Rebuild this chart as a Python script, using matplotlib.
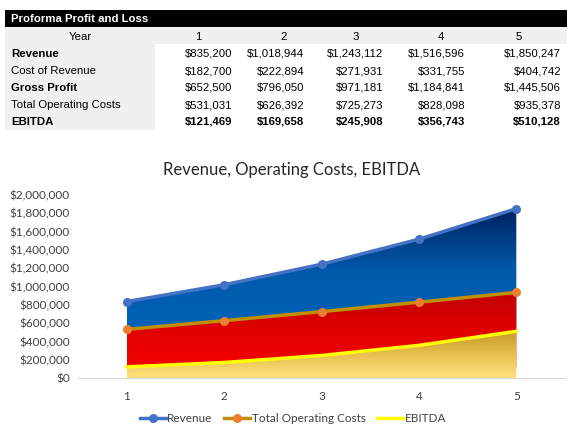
import numpy as np
import matplotlib
matplotlib.use("Agg")
import matplotlib.pyplot as plt
from matplotlib.colors import LinearSegmentedColormap
from matplotlib.ticker import FuncFormatter

# Datos de la tabla
years = [1, 2, 3, 4, 5]
revenue = [835200, 1018944, 1243112, 1516596, 1850247]
cost_of_revenue = [182700, 222894, 271931, 331755, 404742]
gross_profit = [652500, 796050, 971181, 1184841, 1445506]
operating_costs = [531031, 626392, 725273, 828098, 935378]
ebitda = [121469, 169658, 245908, 356743, 510128]

row_labels = ["Revenue", "Cost of Revenue", "Gross Profit", "Total Operating Costs", "EBITDA"]
row_values = [revenue, cost_of_revenue, gross_profit, operating_costs, ebitda]
row_bold = [True, False, True, False, True]

W, H = 572, 432
fig = plt.figure(figsize=(W / 100, H / 100), dpi=100)

# ---- Tabla (coordenadas en pixeles) ----
tab = fig.add_axes([0, 0, 1, 1])
tab.set_xlim(0, W)
tab.set_ylim(H, 0)
tab.axis("off")

tfont = "Liberation Sans"
tab.add_patch(plt.Rectangle((5, 10), 562, 17, color="black", lw=0))
tab.text(11, 19, "Proforma Profit and Loss", color="white", fontsize=8.2,
         fontweight="bold", family=tfont, va="center")
tab.add_patch(plt.Rectangle((5, 27), 562, 17, color="#f0f0f0", lw=0))
tab.add_patch(plt.Rectangle((5, 27), 150, 103, color="#f0f0f0", lw=0))
tab.text(80, 37, "Year", fontsize=8.2, family=tfont, ha="center", va="center")

year_x = [198, 284, 356, 441, 519]
col_right = [232, 304, 383, 465, 561]
for i, y in enumerate(years):
    tab.text(year_x[i], 37, str(y), fontsize=8.2, family=tfont, ha="center", va="center")

for r, (lab, vals, b) in enumerate(zip(row_labels, row_values, row_bold)):
    yy = 54 + r * 17
    fw = "bold" if b else "normal"
    tab.text(11, yy, lab, fontsize=8.2, family=tfont, fontweight=fw, va="center")
    for i, v in enumerate(vals):
        fw2 = "bold" if lab == "EBITDA" else "normal"
        tab.text(col_right[i], yy, "${:,}".format(v), fontsize=8.2, family=tfont,
                 fontweight=fw2, ha="right", va="center")

# ---- Grafico ----
ax = fig.add_axes([78 / W, 54 / H, 487 / W, 183 / H])
ymax = 2000000
ax.set_xlim(0.5, 5.5)
ax.set_ylim(0, ymax)

# (serie, colores abajo->arriba, valor donde empieza el degradado)
gradientes = [
    (revenue, ["#0064b8", "#0058a8", "#002060"], min(operating_costs)),
    (operating_costs, ["#f40000", "#e00000", "#c00000"], min(ebitda)),
    (ebitda, ["#ffe27e", "#e8c050", "#c49a28"], 0),
]
for serie, cols, base in gradientes:
    poly = ax.fill_between(years, serie, 0, facecolor="none", edgecolor="none")
    cmap = LinearSegmentedColormap.from_list("g", cols)
    top = max(serie)
    grad = np.linspace(0, 1, 256).reshape(-1, 1)
    im = ax.imshow(grad, cmap=cmap, extent=[1, 5, base, top], aspect="auto",
                   origin="lower", zorder=1)
    im.set_clip_path(poly.get_paths()[0], transform=ax.transData)
    if base > 0:
        low = ax.fill_between(years, np.minimum(serie, base), 0, color=cols[0],
                              lw=0, zorder=0.9)

ax.plot(years, revenue, color="#4472c4", lw=2.5, marker="o", ms=5.5,
        zorder=5, label="Revenue")
ax.plot(years, operating_costs, color="#bf9000", lw=2.5, marker="o", ms=5.5,
        mfc="#ed7d31", mec="#ed7d31", zorder=5, label="Total Operating Costs")
ax.plot(years, ebitda, color="#ffff00", lw=2.5, zorder=5, label="EBITDA")

ax.set_xlim(0.5, 5.5)
ax.set_ylim(0, ymax)
cfont = "Lato"
ax.set_yticks(np.arange(0, ymax + 1, 200000))
ax.yaxis.set_major_formatter(FuncFormatter(lambda v, p: "${:,.0f}".format(v)))
ax.set_xticks(years)
for s in ["top", "right", "left"]:
    ax.spines[s].set_visible(False)
ax.spines["bottom"].set_color("#d9d9d9")
ax.tick_params(length=0, labelsize=8.5, colors="#404040", pad=6)
ax.tick_params(axis="x", pad=9)
for t in ax.get_xticklabels() + ax.get_yticklabels():
    t.set_family(cfont)

fig.text(292 / W, 1 - 170 / H, "Revenue, Operating Costs, EBITDA", fontsize=12,
         family=cfont, color="#262626", ha="center", va="center")

leg = ax.legend(loc="center", bbox_to_anchor=(293 / W, 1 - 419 / H),
                bbox_transform=fig.transFigure, ncol=3, frameon=False,
                prop={"family": cfont, "size": 8.5}, handlelength=2.2,
                columnspacing=1.0, handletextpad=0.1)
for t in leg.get_texts():
    t.set_color("#404040")

fig.savefig("out.png", dpi=100)
